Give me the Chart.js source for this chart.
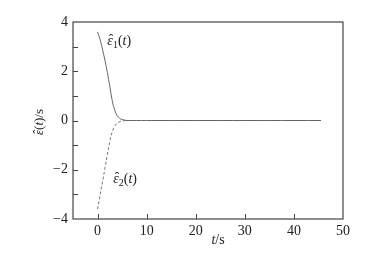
<!DOCTYPE html>
<html>
<head>
<meta charset="utf-8">
<script src="https://cdn.jsdelivr.net/npm/chart.js@4/dist/chart.umd.min.js"></script>
<style>
  html, body { margin: 0; padding: 0; background: #fff; }
</style>
</head>
<body>
<canvas id="chart" width="380" height="261"></canvas>
<script>
// data
const tValues = [0, 0.5, 1, 1.5, 2, 2.5, 3, 3.5, 4, 4.5, 5, 5.5, 6, 8, 10, 15, 20, 25, 30, 35, 40, 45.5]
const eps1 = [3.6, 3.3, 2.9, 2.45, 1.95, 1.38, 0.8, 0.42, 0.2, 0.09, 0.04, 0.015, 0, 0, 0, 0, 0, 0, 0, 0, 0, 0]
const eps2 = [-3.6, -3.05, -2.5, -1.95, -1.38, -0.85, -0.45, -0.22, -0.1, -0.05, -0.02, -0.005, 0, 0, 0, 0, 0, 0, 0, 0, 0, 0]
const xTicks = [0, 10, 20, 30, 40, 50]
const yTicks = [-4, -3, -2, -1, 0, 1, 2, 3, 4]
const yLabelled = [-4, -2, 0, 2, 4]

const serif = "'Liberation Serif'"
const ink = '#222'

// draws  ε̂ [sub] (t)  starting at x, returns width
function drawEps(ctx, x, y, sub, size, measureOnly) {
  let cx = x
  const put = (txt, font, dy) => {
    ctx.font = font
    const w = ctx.measureText(txt).width
    if (!measureOnly) ctx.fillText(txt, cx, y + (dy || 0))
    return w
  }
  ctx.font = `italic ${size}px ${serif}`
  const ew = ctx.measureText('ε').width
  if (!measureOnly) {
    ctx.fillText('ε', cx, y)
    ctx.font = `${size}px ${serif}`
    const hw = ctx.measureText('ˆ').width
    ctx.fillText('ˆ', cx + ew / 2 - hw / 2 + 1, y - 1)
  }
  cx += ew
  if (sub) cx += put(sub, `${Math.round(size * 0.7)}px ${serif}`, 3)
  cx += put('(', `${size}px ${serif}`)
  cx += put('t', `italic ${size}px ${serif}`)
  cx += put(')', `${size}px ${serif}`)
  return cx - x
}

const framePlugin = {
  id: 'frame',
  afterDatasetsDraw(chart) {
    const { ctx, chartArea: a, scales } = chart
    ctx.save()
    ctx.strokeStyle = '#444'
    ctx.lineWidth = 1.2
    ctx.strokeRect(a.left, a.top, a.right - a.left, a.bottom - a.top)

    // inward ticks on left and bottom
    ctx.lineWidth = 1
    ctx.beginPath()
    yTicks.forEach(v => {
      if (v === -4 || v === 4) return
      const py = Math.round(scales.y.getPixelForValue(v)) + 0.5
      ctx.moveTo(a.left, py)
      ctx.lineTo(a.left + 5, py)
    })
    xTicks.forEach(v => {
      if (v === 50) return
      const px = Math.round(scales.x.getPixelForValue(v)) + 0.5
      ctx.moveTo(px, a.bottom)
      ctx.lineTo(px, a.bottom - 5)
    })
    ctx.stroke()

    // curve labels
    ctx.fillStyle = ink
    ctx.textBaseline = 'alphabetic'
    drawEps(ctx, scales.x.getPixelForValue(2.0), scales.y.getPixelForValue(3.05), '1', 14)
    drawEps(ctx, scales.x.getPixelForValue(3.2), scales.y.getPixelForValue(-2.52), '2', 14)

    // axis titles
    ctx.font = `italic 14px ${serif}`
    const tw = ctx.measureText('t').width
    ctx.font = `14px ${serif}`
    const sw = ctx.measureText('/s').width
    let x0 = 218 - (tw + sw) / 2
    ctx.font = `italic 14px ${serif}`
    ctx.fillText('t', x0, 244)
    ctx.font = `14px ${serif}`
    ctx.fillText('/s', x0 + tw, 244)

    ctx.translate(43, 122)
    ctx.rotate(-Math.PI / 2)
    const w1 = drawEps(ctx, 0, 0, null, 13, true)
    ctx.font = `13px ${serif}`
    const w2 = ctx.measureText('/s').width
    const start = -(w1 + w2) / 2
    drawEps(ctx, start, 0, null, 13)
    ctx.font = `13px ${serif}`
    ctx.fillText('/s', start + w1, 0)
    ctx.restore()
  }
}

new Chart(document.getElementById('chart'), {
  type: 'line',
  data: {
    datasets: [
      {
        label: 'eps1',
        data: tValues.map((t, i) => ({ x: t, y: eps1[i] })),
        borderColor: '#666',
        borderWidth: 1,
        pointRadius: 0,
        tension: 0.35
      },
      {
        label: 'eps2',
        data: tValues.map((t, i) => ({ x: t, y: eps2[i] })),
        borderColor: '#777',
        borderWidth: 1,
        borderDash: [3, 2],
        pointRadius: 0,
        tension: 0.35
      }
    ]
  },
  options: {
    responsive: false,
    animation: false,
    devicePixelRatio: 1,
    layout: { padding: { left: 0, top: 22, right: 37, bottom: 0 } },
    plugins: { legend: { display: false }, tooltip: { enabled: false } },
    scales: {
      x: {
        type: 'linear',
        min: -5,
        max: 50,
        afterBuildTicks: s => { s.ticks = xTicks.map(v => ({ value: v })) },
        afterFit: s => { s.height = 42 },
        grid: { display: false, drawTicks: false },
        border: { display: false },
        ticks: {
          padding: 4,
          color: ink,
          font: { family: serif, size: 14 },
          maxRotation: 0,
          autoSkip: false
        }
      },
      y: {
        type: 'linear',
        min: -4,
        max: 4,
        afterBuildTicks: s => { s.ticks = yTicks.map(v => ({ value: v })) },
        afterFit: s => { s.width = 73 },
        grid: { display: false, drawTicks: false },
        border: { display: false },
        ticks: {
          padding: 5,
          color: ink,
          font: { family: serif, size: 14 },
          autoSkip: false,
          callback: v => yLabelled.includes(v) ? (v < 0 ? '\u2212' + Math.abs(v) : String(v)) : ''
        }
      }
    }
  },
  plugins: [framePlugin]
})
</script>
</body>
</html>
